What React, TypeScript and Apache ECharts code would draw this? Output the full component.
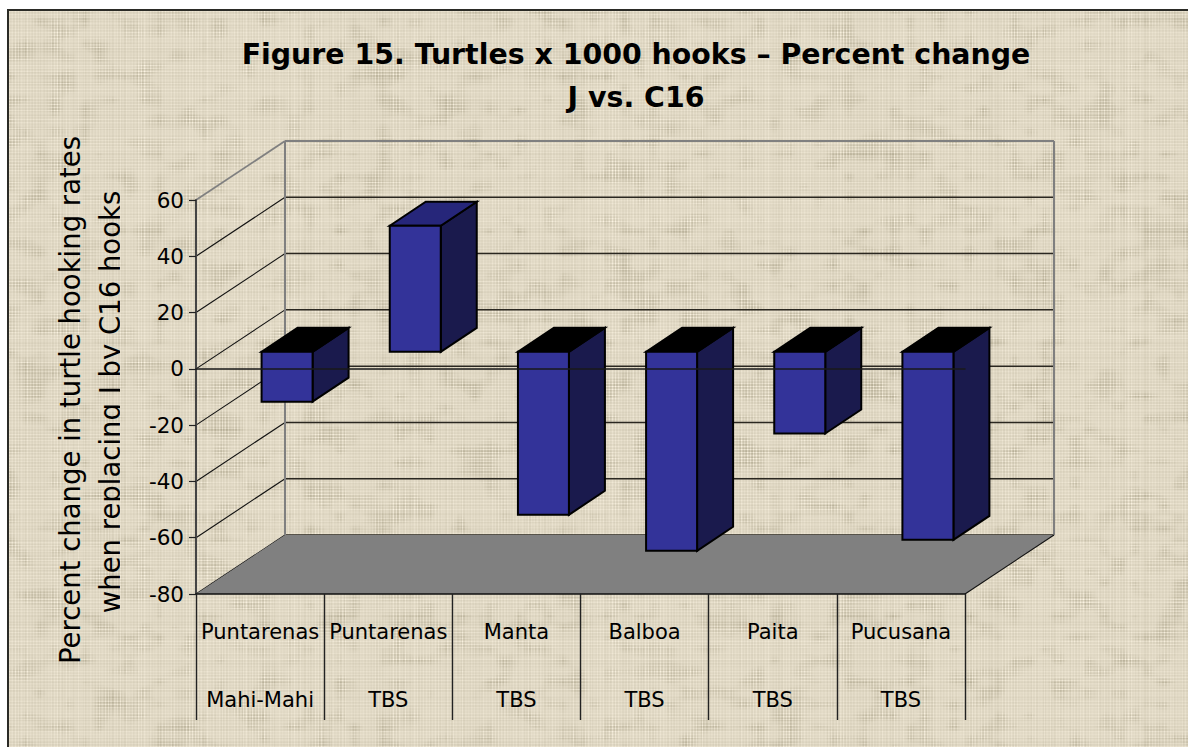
import React, { useEffect, useRef, useState } from "react";
import * as echarts from "echarts";

// Turtle hooking rates per fishery, percent change after the hook swap.
const sites = ["Puntarenas", "Puntarenas", "Manta", "Balboa", "Paita", "Pucusana"];
const fisheries = ["Mahi-Mahi", "TBS", "TBS", "TBS", "TBS", "TBS"];
const percentChange = [-17.7, 44.8, -57.9, -70.7, -29, -66.8];
const yTicks = [60, 40, 20, 0, -20, -40, -60, -80];

const titleText = "Figure 15. Turtles x 1000 hooks – Percent change\nJ vs. C16";
const yTitleLines = ["Percent change in turtle hooking rates", "when replacing J by C16 hooks"];

const FONT = '"DejaVu Sans", sans-serif';

// Oblique projection of the box: how far the back wall sits from the front plane.
const DEPTH_X = 89;
const DEPTH_Y = -59;
const BAR_OFFSET_X = 27;
const BAR_OFFSET_Y = -17;
const BAR_SIDE_X = 36;
const BAR_SIDE_Y = -24;
const BAR_WIDTH = 51;

const FRONT_COLOR = "#333399";
const SIDE_COLOR = "#1a1a4d";
const TOP_COLOR = "#26267a";
const UNDER_COLOR = "#000000";
const WALL_COLOR = "#808080";
const FLOOR_COLOR = "#808080";

// Woven linen tile, seeded so every render gives the same cloth.
function makeLinen(width: number, height: number): string {
  let seed = 48271;
  const next = () => {
    seed = (seed * 16807) % 2147483647;
    return seed / 2147483647;
  };
  const threads = (n: number) => {
    const out: number[] = [];
    for (let i = 0; i < n; i++) {
      const r = next();
      const beat = i % 3 === 0 ? 0.6 : -0.25;
      out.push(beat + (r - 0.5) * 0.9);
    }
    return out;
  };
  const cols = threads(width);
  const rows = threads(height);
  const blockW = 15;
  const blockH = 11;
  const bw = Math.ceil(width / blockW) + 2;
  const bh = Math.ceil(height / blockH) + 2;
  const patches: number[] = [];
  for (let i = 0; i < bw * bh; i++) patches.push(next());
  const canvas = document.createElement("canvas");
  canvas.width = width;
  canvas.height = height;
  const ctx = canvas.getContext("2d")!;
  const img = ctx.createImageData(width, height);
  for (let y = 0; y < height; y++) {
    for (let x = 0; x < width; x++) {
      const fx = x / blockW;
      const fy = y / blockH;
      const ix = Math.floor(fx);
      const iy = Math.floor(fy);
      const tx = fx - ix;
      const ty = fy - iy;
      const a = patches[iy * bw + ix];
      const b = patches[iy * bw + ix + 1];
      const c = patches[(iy + 1) * bw + ix];
      const d = patches[(iy + 1) * bw + ix + 1];
      const patch = (a * (1 - tx) + b * tx) * (1 - ty) + (c * (1 - tx) + d * tx) * ty;
      const dark = Math.max(0, 0.52 - patch) * 2;
      const weave = cols[x] + rows[y];
      const shade = 8 * weave - dark * (13 - 14 * weave);
      const p = (y * width + x) * 4;
      img.data[p] = 224 + shade;
      img.data[p + 1] = 216 + shade;
      img.data[p + 2] = 196 + shade * 1.1;
      img.data[p + 3] = 255;
    }
  }
  ctx.putImageData(img, 0, 0);
  const soft = document.createElement("canvas");
  soft.width = width;
  soft.height = height;
  const sctx = soft.getContext("2d")!;
  sctx.filter = "blur(0.45px)";
  sctx.drawImage(canvas, 0, 0);
  return soft.toDataURL("image/png");
}

export default function App() {
  const chartRef = useRef<HTMLDivElement>(null);
  const [linen, setLinen] = useState("");

  useEffect(() => {
    setLinen(makeLinen(1188, 747));
    const chart = echarts.init(chartRef.current!, null, { renderer: "svg" });

    const renderGridLine = (params: any, api: any) => {
      const { x, width } = params.coordSys;
      const value = api.value(0);
      const y = api.coord([0, value])[1];
      const isTop = value === yTicks[0];
      return {
        type: "group",
        children: [
          {
            type: "polyline",
            shape: { points: [[x, y], [x + DEPTH_X, y + DEPTH_Y]] },
            style: { fill: "none", stroke: isTop ? WALL_COLOR : "#111111", lineWidth: isTop ? 1.8 : 1.1 },
          },
          {
            type: "polyline",
            shape: { points: [[x + DEPTH_X, y + DEPTH_Y], [x + width + DEPTH_X, y + DEPTH_Y]] },
            style: { fill: "none", stroke: isTop ? WALL_COLOR : "#2a2720", lineWidth: isTop ? 2 : 1.5 },
          },
        ],
      };
    };

    const renderBox = (params: any, api: any) => {
      const { x, width } = params.coordSys;
      const yTop = api.coord([0, yTicks[0]])[1];
      const yBottom = api.coord([0, yTicks[yTicks.length - 1]])[1];
      const backX = x + DEPTH_X;
      const backBottom = yBottom + DEPTH_Y;
      return {
        type: "group",
        children: [
          {
            type: "polyline",
            shape: { points: [[backX, backBottom], [backX, yTop + DEPTH_Y]] },
            style: { fill: "none", stroke: WALL_COLOR, lineWidth: 2 },
          },
          {
            type: "polyline",
            shape: { points: [[backX + width, backBottom], [backX + width, yTop + DEPTH_Y]] },
            style: { fill: "none", stroke: WALL_COLOR, lineWidth: 2 },
          },
          {
            type: "polygon",
            shape: { points: [[x, yBottom], [backX, backBottom], [backX + width, backBottom], [x + width, yBottom]] },
            style: { fill: FLOOR_COLOR, stroke: "none" },
          },
          {
            type: "polyline",
            shape: { points: [[x + width, yBottom], [backX + width, backBottom]] },
            style: { fill: "none", stroke: "#111111", lineWidth: 1.1 },
          },
        ],
      };
    };

    const renderBar = (_params: any, api: any) => {
      const index = api.value(0);
      const value = api.value(1);
      const base = api.coord([index, 0]);
      const tip = api.coord([index, value]);
      const left = base[0] - BAR_WIDTH / 2 + BAR_OFFSET_X;
      const right = left + BAR_WIDTH;
      const upper = Math.min(base[1], tip[1]) + BAR_OFFSET_Y;
      const lower = Math.max(base[1], tip[1]) + BAR_OFFSET_Y;
      const sx = BAR_SIDE_X;
      const sy = BAR_SIDE_Y;
      const edge = { stroke: "#000000", lineWidth: 2, lineJoin: "miter" };
      return {
        type: "group",
        children: [
          {
            type: "polygon",
            shape: { points: [[right, upper], [right + sx, upper + sy], [right + sx, lower + sy], [right, lower]] },
            style: { fill: SIDE_COLOR, ...edge },
          },
          {
            type: "polygon",
            shape: { points: [[left, upper], [left + sx, upper + sy], [right + sx, upper + sy], [right, upper]] },
            style: { fill: value < 0 ? UNDER_COLOR : TOP_COLOR, ...edge },
          },
          {
            type: "polygon",
            shape: { points: [[left, upper], [right, upper], [right, lower], [left, lower]] },
            style: { fill: FRONT_COLOR, ...edge },
          },
        ],
      };
    };

    // The second title line is cut along its baseline by the clip rectangle.
    const yTitleX = [70, 110];
    const yTitleY = [400, 402];
    const yTitleClip = [40, 10];
    const renderYTitle = (params: any) => {
      const i = params.dataIndex;
      return {
        type: "text",
        x: yTitleX[i],
        y: yTitleY[i],
        rotation: Math.PI / 2,
        style: {
          text: yTitleLines[i],
          fontFamily: FONT,
          fontSize: 27.5,
          fill: "#000000",
          align: "center",
          verticalAlign: "middle",
        },
        clipPath: { type: "rect", shape: { x: -400, y: -40, width: 800, height: 40 + yTitleClip[i] } },
      };
    };

    chart.setOption({
      animation: false,
      backgroundColor: "transparent",
      title: {
        text: titleText,
        left: 631,
        top: 28,
        textAlign: "center",
        textStyle: { fontFamily: FONT, fontWeight: "bold", fontSize: 28.4, lineHeight: 43, color: "#000000" },
      },
      grid: { left: 196, top: 200, width: 769, height: 394, containLabel: false },
      xAxis: [
        {
          type: "category",
          data: sites,
          position: "bottom",
          z: 3,
          axisLine: { onZero: false, lineStyle: { color: "#111111", width: 1.5 } },
          axisTick: { show: true, length: 126, alignWithLabel: false, lineStyle: { color: "#222222", width: 1.4 } },
          axisLabel: {
            interval: 0,
            margin: 4,
            fontFamily: FONT,
            fontSize: 21,
            lineHeight: 68,
            color: "#000000",
            formatter: (value: string, index: number) => `${value}\n${fisheries[index]}`,
          },
          splitLine: { show: false },
        },
        {
          type: "category",
          data: sites,
          z: 10,
          axisLine: { onZero: true, lineStyle: { color: "#1a1a1a", width: 1.5 } },
          axisTick: { show: false },
          axisLabel: { show: false },
          splitLine: { show: false },
        },
      ],
      yAxis: {
        type: "value",
        min: -80,
        max: 60,
        interval: 20,
        z: 3,
        axisLine: { show: true, lineStyle: { color: "#444444", width: 2 } },
        axisTick: { show: true, length: 7, lineStyle: { color: "#222222", width: 1.2 } },
        axisLabel: { margin: 12, fontFamily: FONT, fontSize: 21.5, color: "#000000" },
        splitLine: { show: false },
      },
      series: [
        { type: "custom", name: "grid lines", renderItem: renderGridLine, data: yTicks.map((v) => [v]), encode: { y: 0 }, silent: true, clip: false },
        { type: "custom", name: "box", renderItem: renderBox, data: [[0]], silent: true, clip: false },
        {
          type: "custom",
          name: "Percent change",
          renderItem: renderBar,
          data: percentChange.map((v, i) => [i, v]),
          encode: { x: 0, y: 1 },
          clip: false,
        },
        { type: "custom", name: "axis title", coordinateSystem: "none", renderItem: renderYTitle, data: yTitleLines.map((_, i) => [i]), silent: true },
      ],
    });

    return () => chart.dispose();
  }, []);

  return (
    <div style={{ position: "fixed", left: 0, top: 0, width: 1188, height: 747, overflow: "hidden", background: "#ffffff" }}>
      <div
        style={{
          position: "absolute",
          left: 7,
          top: 9,
          width: 1200,
          height: 760,
          borderLeft: "2px solid #2b2b26",
          borderTop: "2px solid #2b2b26",
          backgroundImage: linen ? `url(${linen})` : "none",
          backgroundColor: "#e2dac6",
        }}
      />
      <div ref={chartRef} style={{ position: "absolute", left: 0, top: 0, width: 1188, height: 747 }} />
    </div>
  );
}
